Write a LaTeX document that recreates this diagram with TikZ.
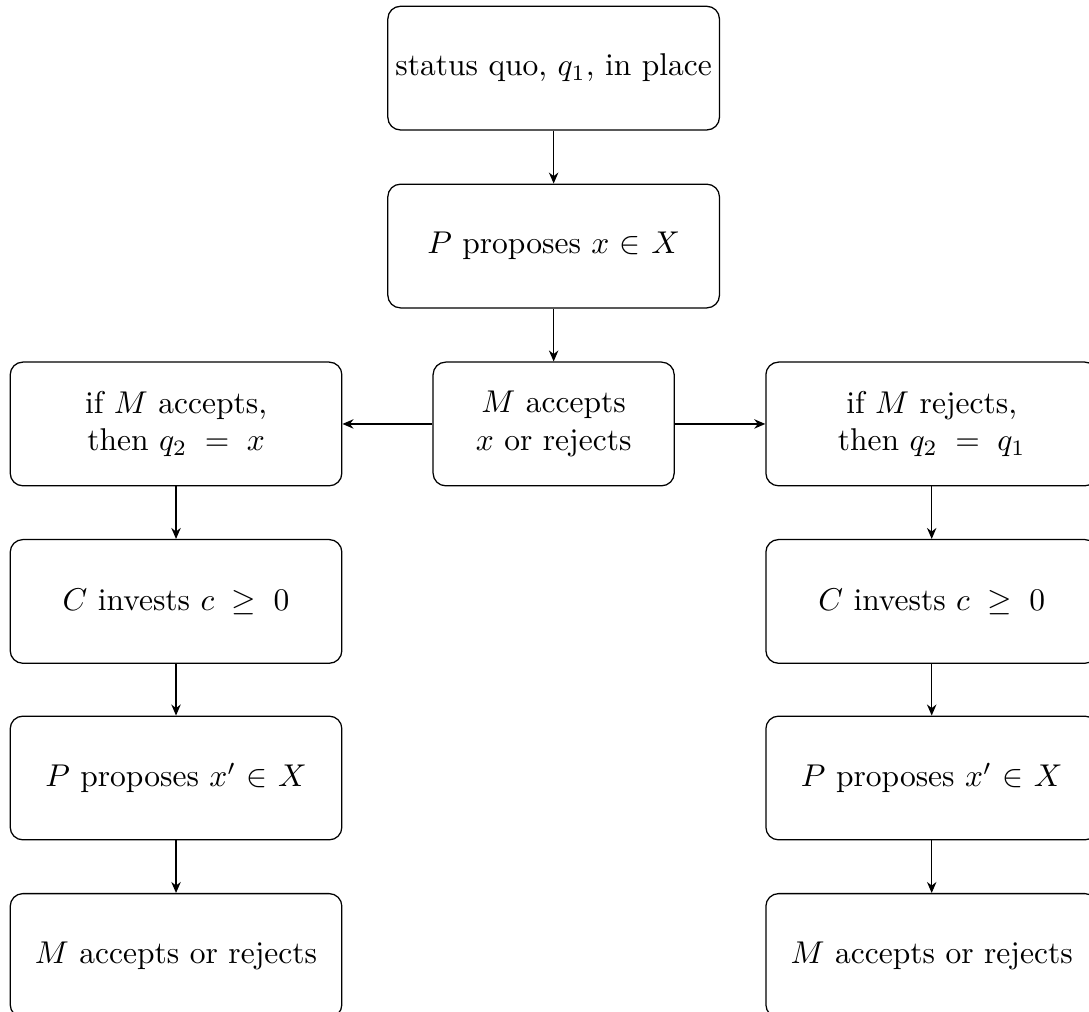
\documentclass[tikz,border=0pt]{standalone}
\usepackage{amsmath}
\usepackage{amssymb}
\usepackage{tikz}
\usetikzlibrary{arrows.meta}

\tikzset{
  stagebox/.style={draw,rounded corners=4pt,align=center,minimum width=3.7cm,minimum height=1.38cm,inner sep=2pt},
  choicebox/.style={stagebox,minimum width=2.69cm},
  flow/.style={-{Stealth[length=3.5pt,width=3pt]},line width=0.4pt}
}

\begin{document}
\begin{tikzpicture}
                \useasboundingbox (0,0) rectangle (12.15,-11.28);

                \node[stagebox] (sq) at (6.177, -0.76) {status quo, $q_1$, in place};
                \node[stagebox] (px) at (6.177, -2.745) {$P$ proposes $x$ $\in$ $X$};
                \node[choicebox] (mx) at (6.177, -4.73) {$M$ accepts\\$x$ or rejects};

                \node[stagebox] (acc) at (1.964, -4.73) {if $M$ accepts,\\then $q_2 \;=\; x$};
                \node[stagebox] (ca) at (1.964, -6.71) {$C$ invests $c \;\geq\; 0$};
                \node[stagebox] (pa) at (1.964, -8.68) {$P$ proposes $x'$ $\in$ $X$};
                \node[stagebox] (ma) at (1.964, -10.66) {$M$ accepts or rejects};

                \node[stagebox] (rej) at (10.395, -4.73) {if $M$ rejects,\\then $q_2 \;=\; q_1$};
                \node[stagebox] (cr) at (10.395, -6.71) {$C$ invests $c \;\geq\; 0$};
                \node[stagebox] (pr) at (10.395, -8.68) {$P$ proposes $x'$ $\in$ $X$};
                \node[stagebox] (mr) at (10.395, -10.66) {$M$ accepts or rejects};

                \draw[flow] (sq) edge (px)
                (px) edge (mx)
                (mx) edge (acc)
                (mx) edge (rej)
                (acc) edge (ca)
                (ca) edge (pa)
                (pa) edge (ma)
                (rej) edge (cr)
                (cr) edge (pr)
                (pr) edge (mr);
            \end{tikzpicture}
\end{document}
